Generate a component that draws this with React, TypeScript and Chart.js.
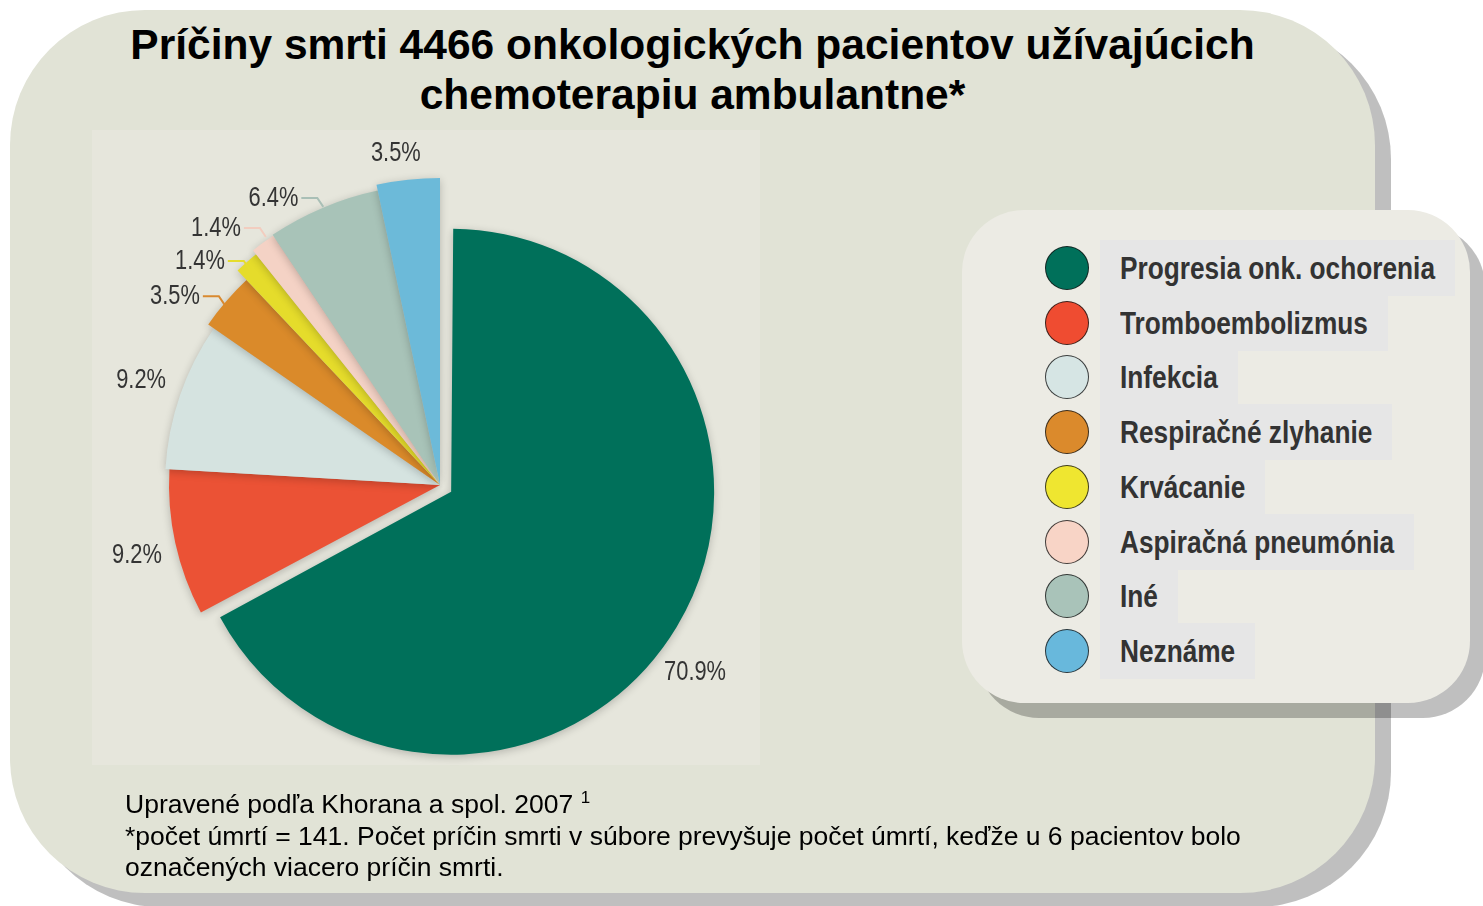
import React, { useEffect, useRef } from 'react';
import { Chart, registerables } from 'chart.js';

Chart.register(...registerables);

// ---------- data ----------
const titleLines = [
  'Príčiny smrti 4466 onkologických pacientov užívajúcich',
  'chemoterapiu ambulantne*',
];
const categories = [
  'Progresia onk. ochorenia',
  'Tromboembolizmus',
  'Infekcia',
  'Respiračné zlyhanie',
  'Krvácanie',
  'Aspiračná pneumónia',
  'Iné',
  'Neznáme',
];
const values = [70.9, 9.2, 9.2, 3.5, 1.4, 1.4, 6.4, 3.5];
const footnoteSource = 'Upravené podľa Khorana a spol. 2007';
const footnoteRef = '1';
const footnoteLines = [
  '*počet úmrtí = 141. Počet príčin smrti v súbore prevyšuje počet úmrtí, keďže u 6 pacientov bolo',
  'označených viacero príčin smrti.',
];

// ---------- styles ----------
const sliceColors = ['#00705A', '#EB5235', '#D5E3E0', '#DA8A2A', '#E5DC2B', '#F4D2C5', '#A8C3B8', '#6CBAD9'];
const legendColors = ['#00705A', '#EF4C31', '#D6E5E4', '#DB8A2C', '#EFE630', '#F8D4C6', '#A9C3B9', '#68B8DC'];
const leaderColors = ['', '', '', '#D98A30', '#E6DD2C', '#F2CDBF', '#A9BFB6', ''];
const sliceOffsets = [52, 0, 0, 0, 0, 0, 0, 0];
const sliceRadiusScale = [1, 1.084, 1.1, 1.128, 1.18, 1.2, 1.204, 1.228];
const labelLayout = [
  { leader: false, dA: 5.5, dR: 40.3 },
  { leader: false, dA: -0.6, dR: 40 },
  { leader: false, dA: 0.2, dR: 41.6 },
  { leader: true, dA: -0.8, dR: -1.6 },
  { leader: true, dA: -0.55, dR: -8 },
  { leader: true, dA: 1.1, dR: 3 },
  { leader: true, dA: 0.1, dR: 0.6 },
  { leader: false, dA: -1.6, dR: 28 },
];

const PANEL_BG = '#E1E3D6';
const PIE_BG = '#E6E6DC';
const LEGEND_BG = '#ECEBE4';
const FONT = '"Liberation Sans", Arial, Helvetica, sans-serif';

const radiusPlugin = {
  id: 'sliceRadius',
  afterDatasetUpdate(chart: any, args: any) {
    args.meta.data.forEach((el: any, i: number) => {
      el.outerRadius = el.outerRadius * sliceRadiusScale[i];
    });
  },
};

const shadowPlugin = {
  id: 'sliceShadow',
  beforeDatasetsDraw(chart: any) {
    const ctx = chart.ctx as CanvasRenderingContext2D;
    ctx.save();
    ctx.shadowColor = 'rgba(0,0,0,0.22)';
    ctx.shadowBlur = 9;
    ctx.shadowOffsetX = 0;
    ctx.shadowOffsetY = 2;
  },
  afterDatasetsDraw(chart: any) {
    chart.ctx.restore();
  },
};

const labelPlugin = {
  id: 'pctLabels',
  afterDatasetsDraw(chart: any) {
    const ctx = chart.ctx as CanvasRenderingContext2D;
    const meta = chart.getDatasetMeta(0);
    meta.data.forEach((el: any, i: number) => {
      const p = el.getProps(['x', 'y', 'startAngle', 'endAngle', 'outerRadius', 'circumference'], true);
      const t = (el.options.offset || 0) / 4;
      const mid = (p.startAngle + p.endAngle) / 2;
      const fix = 1 - Math.sin(Math.min(Math.PI, p.circumference));
      const cx = p.x + Math.cos(mid) * t;
      const cy = p.y + Math.sin(mid) * t;
      const r = p.outerRadius + t * fix;
      const L = labelLayout[i];
      const a = mid + (L.dA * Math.PI) / 180;
      const text = values[i].toFixed(1) + '%';
      ctx.save();
      ctx.fillStyle = '#343434';
      ctx.font = '28px ' + FONT;
      ctx.textBaseline = 'middle';
      const px = cx + Math.cos(a) * (r + L.dR);
      const py = cy + Math.sin(a) * (r + L.dR);
      if (L.leader) {
        const bx = px - 6;
        const by = py - 9;
        ctx.strokeStyle = leaderColors[i];
        ctx.lineWidth = 2;
        ctx.beginPath();
        ctx.moveTo(px, py);
        ctx.lineTo(bx, by);
        ctx.lineTo(bx - 16, by);
        ctx.stroke();
        ctx.translate(bx - 19, by);
        ctx.scale(0.78, 1);
        ctx.textAlign = 'right';
        ctx.fillText(text, 0, 0);
      } else {
        ctx.translate(px, py);
        ctx.scale(0.78, 1);
        ctx.textAlign = 'center';
        ctx.fillText(text, 0, 0);
      }
      ctx.restore();
    });
  },
};

function measure(text: string, font: string): number {
  const c = document.createElement('canvas').getContext('2d');
  if (!c) return text.length * 16;
  c.font = font;
  return c.measureText(text).width;
}

function PieChart() {
  const ref = useRef<HTMLCanvasElement | null>(null);
  useEffect(() => {
    if (!ref.current) return;
    const chart = new Chart(ref.current, {
      type: 'pie',
      data: {
        labels: categories,
        datasets: [
          {
            data: values,
            backgroundColor: sliceColors,
            borderWidth: 0,
            offset: sliceOffsets,
            hoverOffset: 0,
          } as any,
        ],
      },
      options: {
        responsive: false,
        animation: false,
        radius: 250,
        events: [],
        layout: { padding: 0 },
        plugins: { legend: { display: false }, tooltip: { enabled: false }, title: { display: false } },
      } as any,
      plugins: [radiusPlugin, shadowPlugin, labelPlugin],
    });
    return () => chart.destroy();
  }, []);
  return (
    <canvas
      ref={ref}
      width={720}
      height={720}
      style={{ position: 'absolute', left: 80, top: 125, width: 720, height: 720 }}
    />
  );
}

export default function App() {
  const legendFont = 'bold 32px ' + FONT;
  const scaleX = 0.82;
  return (
    <div
      style={{
        position: 'absolute',
        left: 0,
        top: 0,
        width: 1483,
        height: 906,
        overflow: 'hidden',
        background: '#FFFFFF',
        fontFamily: FONT,
      }}
    >
      {/* main panel */}
      <div
        style={{
          position: 'absolute',
          left: 10,
          top: 10,
          width: 1365,
          height: 883,
          borderRadius: 135,
          background: PANEL_BG,
          boxShadow: '16px 14px 0 rgba(0,0,0,0.25)',
        }}
      />
      {/* title */}
      <div
        style={{
          position: 'absolute',
          left: 10,
          top: 20,
          width: 1365,
          textAlign: 'center',
          fontWeight: 'bold',
          fontSize: 42.5,
          lineHeight: '50px',
          color: '#000',
        }}
      >
        {titleLines.map((t, i) => (
          <div key={i}>{t}</div>
        ))}
      </div>
      {/* pie picture background */}
      <div style={{ position: 'absolute', left: 92, top: 130, width: 668, height: 635, background: PIE_BG }} />
      <PieChart />
      {/* footnote */}
      <div
        style={{
          position: 'absolute',
          left: 125,
          top: 789,
          fontSize: 26.5,
          lineHeight: '31.5px',
          color: '#000',
          whiteSpace: 'nowrap',
        }}
      >
        <div>
          {footnoteSource}{' '}
          <span style={{ fontSize: 17, lineHeight: 0, position: 'relative', top: -10 }}>{footnoteRef}</span>
        </div>
        {footnoteLines.map((t, i) => (
          <div key={i}>{t}</div>
        ))}
      </div>
      {/* legend panel */}
      <div
        style={{
          position: 'absolute',
          left: 962,
          top: 210,
          width: 508,
          height: 493,
          borderRadius: 62,
          background: LEGEND_BG,
          boxShadow: '15px 15px 0 rgba(0,0,0,0.25)',
        }}
      />
      {categories.map((name, i) => {
        const yc = 268 + 54.7 * i;
        const w = measure(name, legendFont) * scaleX + 40;
        return (
          <React.Fragment key={name}>
            <div
              style={{
                position: 'absolute',
                left: 1045,
                top: yc - 22,
                width: 44,
                height: 44,
                boxSizing: 'border-box',
                borderRadius: '50%',
                background: legendColors[i],
                border: '1.5px solid rgba(20,20,20,0.8)',
              }}
            />
            <div
              style={{
                position: 'absolute',
                left: 1100,
                top: yc - 28,
                width: w,
                height: 56,
                background: '#E6E6E6',
              }}
            >
              <span
                style={{
                  position: 'absolute',
                  left: 20,
                  top: 0,
                  fontFamily: FONT,
                  fontWeight: 'bold',
                  fontSize: 32,
                  lineHeight: '56px',
                  color: '#333333',
                  whiteSpace: 'nowrap',
                  transform: `scaleX(${scaleX})`,
                  transformOrigin: '0 50%',
                }}
              >
                {name}
              </span>
            </div>
          </React.Fragment>
        );
      })}
    </div>
  );
}
